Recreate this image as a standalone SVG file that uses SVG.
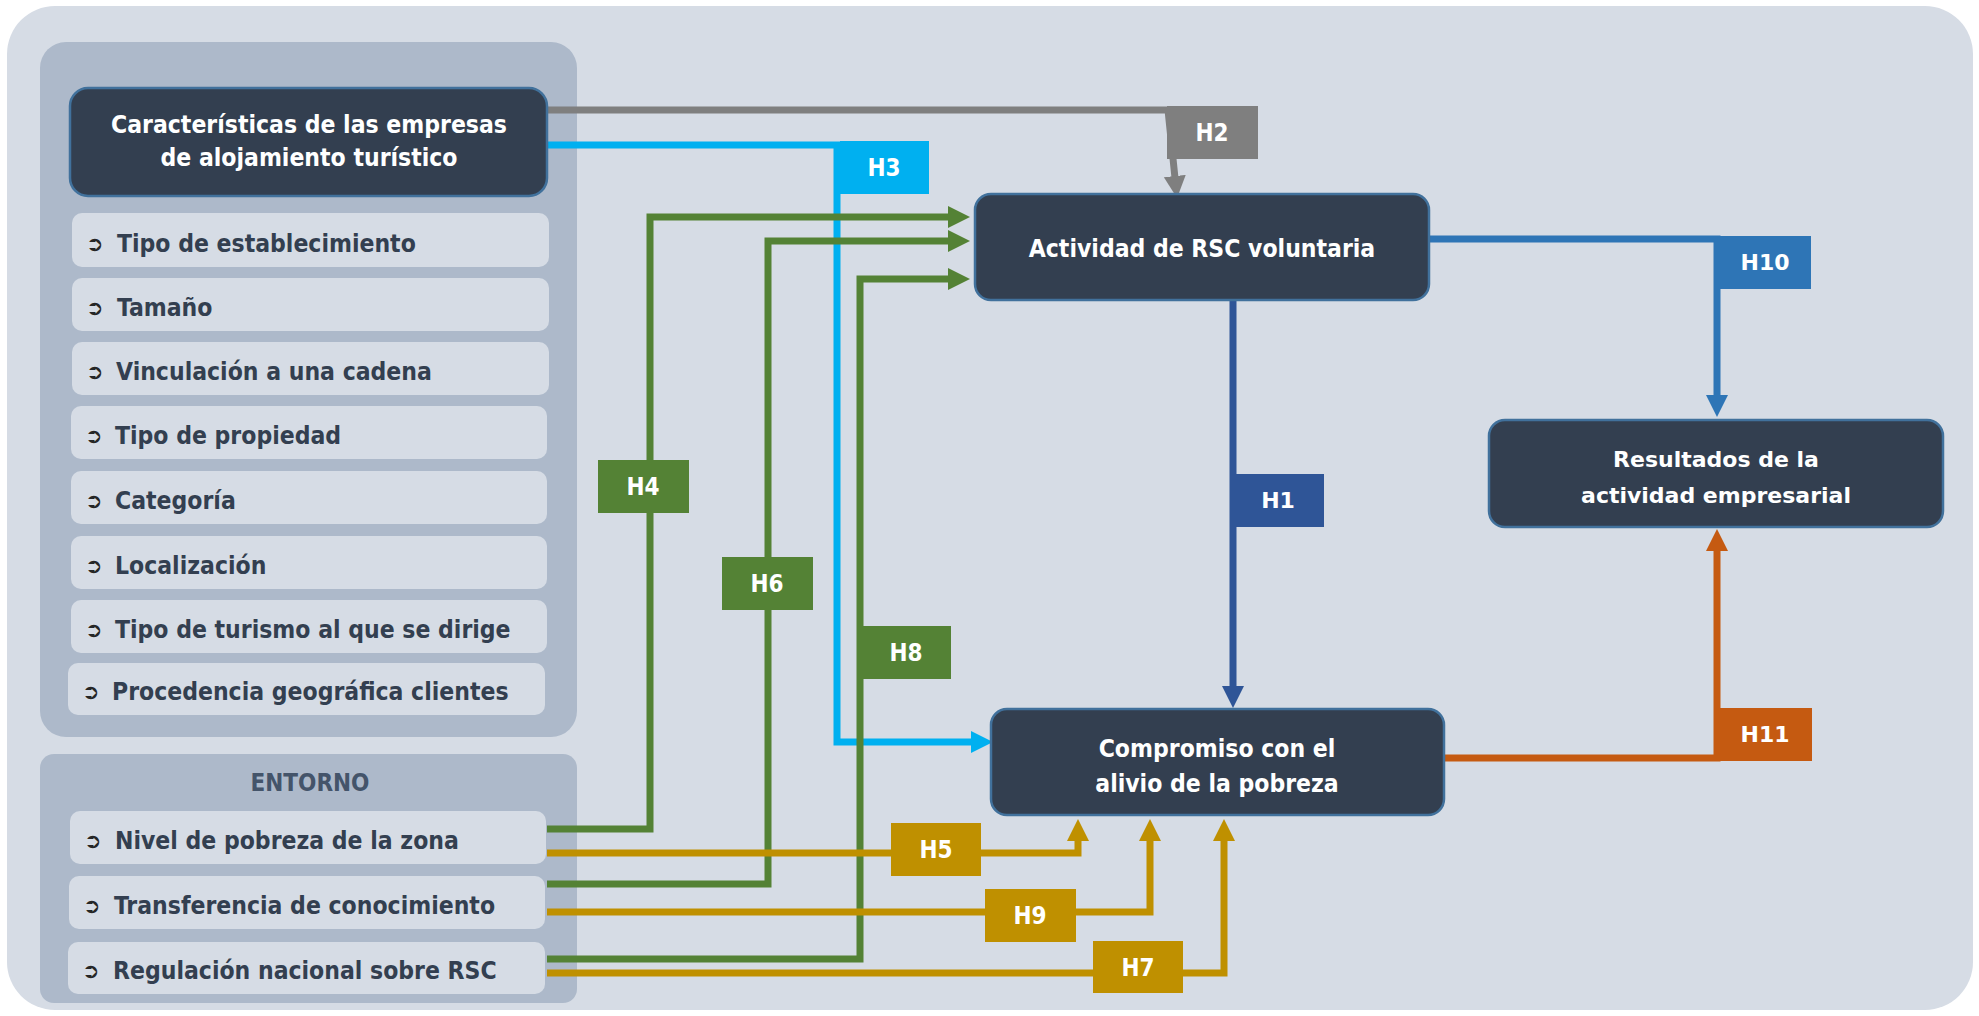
<svg xmlns="http://www.w3.org/2000/svg" width="1979" height="1016" viewBox="0 0 1979 1016">
<defs>
<style>
.panel{fill:#adb9ca}
.item{fill:#d6dce5}
.dark{fill:#333f50;stroke:#41719c;stroke-width:2.5}
.it{font-family:"DejaVu Sans Condensed","DejaVu Sans",sans-serif;font-stretch:condensed;font-weight:bold;font-size:24.5px;fill:#333f50}
.bul{font-family:"DejaVu Sans",sans-serif;font-size:21px;font-weight:bold;fill:#262626}
.dt{font-family:"DejaVu Sans Condensed","DejaVu Sans",sans-serif;font-stretch:condensed;font-weight:bold;font-size:24.5px;fill:#ffffff;text-anchor:middle}
.rt{font-family:"DejaVu Sans",sans-serif;font-weight:bold;font-size:22px;fill:#ffffff;text-anchor:middle}
.lb{font-family:"DejaVu Sans Condensed","DejaVu Sans",sans-serif;font-stretch:condensed;font-weight:bold;font-size:24px;fill:#ffffff;text-anchor:middle}
.lbw{font-family:"DejaVu Sans",sans-serif;font-weight:bold;font-size:22px;fill:#ffffff;text-anchor:middle}
.c{fill:none;stroke-width:7}
</style>
<marker id="aGray" markerUnits="userSpaceOnUse" markerWidth="24" markerHeight="24" refX="2" refY="11" orient="auto"><path d="M0,0 L22,11 L0,22 z" fill="#7f7f7f"/></marker>
<marker id="aCyan" markerUnits="userSpaceOnUse" markerWidth="24" markerHeight="24" refX="2" refY="11" orient="auto"><path d="M0,0 L22,11 L0,22 z" fill="#00b0f0"/></marker>
<marker id="aGreen" markerUnits="userSpaceOnUse" markerWidth="24" markerHeight="24" refX="2" refY="11" orient="auto"><path d="M0,0 L22,11 L0,22 z" fill="#548235"/></marker>
<marker id="aGold" markerUnits="userSpaceOnUse" markerWidth="24" markerHeight="24" refX="2" refY="11" orient="auto"><path d="M0,0 L22,11 L0,22 z" fill="#bf9000"/></marker>
<marker id="aNavy" markerUnits="userSpaceOnUse" markerWidth="24" markerHeight="24" refX="2" refY="11" orient="auto"><path d="M0,0 L22,11 L0,22 z" fill="#2f5597"/></marker>
<marker id="aBlue" markerUnits="userSpaceOnUse" markerWidth="24" markerHeight="24" refX="2" refY="11" orient="auto"><path d="M0,0 L22,11 L0,22 z" fill="#2e75b6"/></marker>
<marker id="aOrange" markerUnits="userSpaceOnUse" markerWidth="24" markerHeight="24" refX="2" refY="11" orient="auto"><path d="M0,0 L22,11 L0,22 z" fill="#c55a11"/></marker>
</defs>
<rect width="1979" height="1016" fill="#ffffff"/>
<rect x="7" y="6" width="1966" height="1004" rx="48" fill="#d6dce5"/>

<g id="panel-caracteristicas">
<rect class="panel" x="40" y="42" width="537" height="695" rx="26"/>
</g>
<g id="panel-entorno">
<rect class="panel" x="40" y="754" width="537" height="249" rx="14"/>
<text x="310" y="791" text-anchor="middle" style="font-family:'DejaVu Sans Condensed','DejaVu Sans',sans-serif;font-stretch:condensed;font-weight:bold;font-size:24px;fill:#44546a">ENTORNO</text>
</g>

<g id="connectors">
<path class="c" stroke="#7f7f7f" d="M547,110 H1168 L1175,178" marker-end="url(#aGray)"/>
<path class="c" stroke="#00b0f0" d="M547,145 H837 V742 H973" marker-end="url(#aCyan)"/>
<path class="c" stroke="#548235" d="M547,829 H650 V217 H950" marker-end="url(#aGreen)"/>
<path class="c" stroke="#548235" d="M547,884 H768 V241 H950" marker-end="url(#aGreen)"/>
<path class="c" stroke="#548235" d="M547,959 H860 V279 H950" marker-end="url(#aGreen)"/>
<path class="c" stroke="#bf9000" d="M547,853 H1078 V839" marker-end="url(#aGold)"/>
<path class="c" stroke="#bf9000" d="M547,912 H1150 V839" marker-end="url(#aGold)"/>
<path class="c" stroke="#bf9000" d="M547,973 H1224 V839" marker-end="url(#aGold)"/>
<path class="c" stroke="#2f5597" d="M1233,300 V688" marker-end="url(#aNavy)"/>
<path class="c" stroke="#2e75b6" d="M1429,239 H1717 V397" marker-end="url(#aBlue)"/>
<path class="c" stroke="#c55a11" d="M1444,758 H1717 V549" marker-end="url(#aOrange)"/>
</g>

<g id="header-caracteristicas">
<rect class="dark" x="70" y="88" width="477" height="108" rx="18"/>
<text class="dt" x="309" y="133">Características de las empresas</text>
<text class="dt" x="309" y="166">de alojamiento turístico</text>
</g>
<g id="item-tipo-establecimiento"><rect class="item" x="72" y="213" width="477" height="54" rx="10"/><text class="bul" x="86" y="251">➲</text><text class="it" x="117" y="252">Tipo de establecimiento</text></g>
<g id="item-tamano"><rect class="item" x="72" y="278" width="477" height="53" rx="10"/><text class="bul" x="86" y="315">➲</text><text class="it" x="117" y="316">Tamaño</text></g>
<g id="item-vinculacion"><rect class="item" x="72" y="342" width="477" height="53" rx="10"/><text class="bul" x="86" y="379">➲</text><text class="it" x="116" y="380">Vinculación a una cadena</text></g>
<g id="item-propiedad"><rect class="item" x="71" y="406" width="476" height="53" rx="10"/><text class="bul" x="85" y="443">➲</text><text class="it" x="115" y="444">Tipo de propiedad</text></g>
<g id="item-categoria"><rect class="item" x="71" y="471" width="476" height="53" rx="10"/><text class="bul" x="85" y="508">➲</text><text class="it" x="115" y="509">Categoría</text></g>
<g id="item-localizacion"><rect class="item" x="71" y="536" width="476" height="53" rx="10"/><text class="bul" x="85" y="573">➲</text><text class="it" x="115" y="574">Localización</text></g>
<g id="item-turismo"><rect class="item" x="71" y="600" width="476" height="53" rx="10"/><text class="bul" x="85" y="637">➲</text><text class="it" x="115" y="638">Tipo de turismo al que se dirige</text></g>
<g id="item-procedencia"><rect class="item" x="68" y="663" width="477" height="52" rx="10"/><text class="bul" x="82" y="699">➲</text><text class="it" x="112" y="700">Procedencia geográfica clientes</text></g>

<g id="item-pobreza"><rect class="item" x="70" y="811" width="476" height="53" rx="10"/><text class="bul" x="84" y="848">➲</text><text class="it" x="115" y="849">Nivel de pobreza de la zona</text></g>
<g id="item-transferencia"><rect class="item" x="69" y="876" width="476" height="53" rx="10"/><text class="bul" x="83" y="913">➲</text><text class="it" x="114" y="914">Transferencia de conocimiento</text></g>
<g id="item-regulacion"><rect class="item" x="68" y="942" width="477" height="52" rx="10"/><text class="bul" x="82" y="978">➲</text><text class="it" x="113" y="979">Regulación nacional sobre RSC</text></g>

<g id="node-actividad">
<rect class="dark" x="975" y="194" width="454" height="106" rx="16"/>
<text class="dt" x="1202" y="257">Actividad de RSC voluntaria</text>
</g>
<g id="node-compromiso">
<rect class="dark" x="991" y="709" width="453" height="106" rx="16"/>
<text class="dt" x="1217" y="757">Compromiso con el</text>
<text class="dt" x="1217" y="792">alivio de la pobreza</text>
</g>
<g id="node-resultados">
<rect class="dark" x="1489" y="420" width="454" height="107" rx="16"/>
<text class="rt" x="1716" y="467">Resultados de la</text>
<text class="rt" x="1716" y="503">actividad empresarial</text>
</g>

<g id="labels">
<g id="label-H2"><rect x="1167" y="106" width="91" height="53" fill="#7f7f7f"/><text class="lb" x="1212" y="141">H2</text></g>
<g id="label-H3"><rect x="840" y="141" width="89" height="53" fill="#00b0f0"/><text class="lb" x="884" y="176">H3</text></g>
<g id="label-H4"><rect x="598" y="460" width="91" height="53" fill="#548235"/><text class="lb" x="643" y="495">H4</text></g>
<g id="label-H6"><rect x="722" y="557" width="91" height="53" fill="#548235"/><text class="lb" x="767" y="592">H6</text></g>
<g id="label-H8"><rect x="858" y="626" width="93" height="53" fill="#548235"/><text class="lb" x="906" y="661">H8</text></g>
<g id="label-H5"><rect x="891" y="823" width="90" height="53" fill="#bf9000"/><text class="lb" x="936" y="858">H5</text></g>
<g id="label-H9"><rect x="985" y="889" width="91" height="53" fill="#bf9000"/><text class="lb" x="1030" y="924">H9</text></g>
<g id="label-H7"><rect x="1093" y="941" width="90" height="52" fill="#bf9000"/><text class="lb" x="1138" y="976">H7</text></g>
<g id="label-H1"><rect x="1230" y="474" width="94" height="53" fill="#2f5597"/><text class="lbw" x="1278" y="508">H1</text></g>
<g id="label-H10"><rect x="1714" y="236" width="97" height="53" fill="#2e75b6"/><text class="lbw" x="1765" y="270">H10</text></g>
<g id="label-H11"><rect x="1714" y="708" width="98" height="53" fill="#c55a11"/><text class="lbw" x="1765" y="742">H11</text></g>
</g>
</svg>
